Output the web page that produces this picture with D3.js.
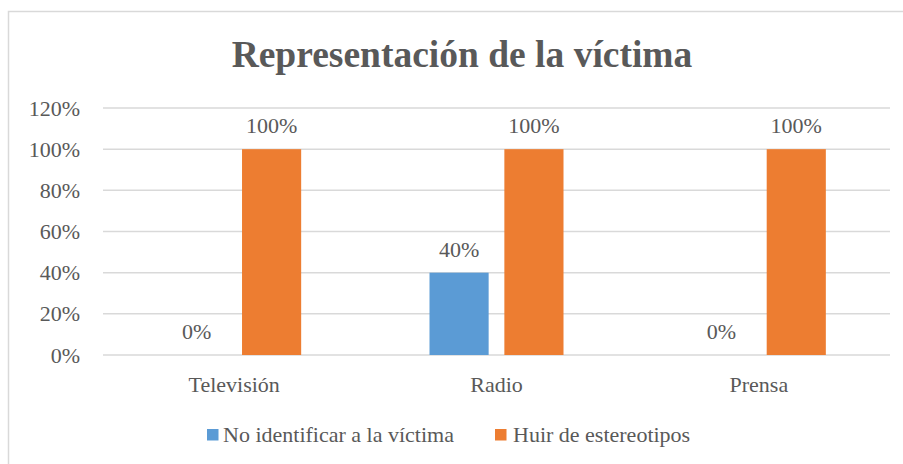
<!DOCTYPE html>
<html><head><meta charset="utf-8">
<script src="https://cdn.jsdelivr.net/npm/d3@7"></script>
<style>body{margin:0;background:#fff}svg{display:block}</style>
</head><body><svg id="c" width="903" height="464"></svg>
<script>
const categories = ["Televisión", "Radio", "Prensa"];
const seriesNames = ["No identificar a la víctima", "Huir de estereotipos"];
const noIdentificar = [0, 0.40, 0];
const huirEstereotipos = [1.00, 1.00, 1.00];
const yTicks = [0, 0.2, 0.4, 0.6, 0.8, 1.0, 1.2];
const colors = ["#5B9BD5", "#ED7D31"];
const title = "Representación de la víctima";
const FONT = "'Liberation Serif', 'Times New Roman', Tinos, 'DejaVu Serif', serif";
const FS = 22;

const svg = d3.select("#c");
svg.append("rect").attr("x", 8.5).attr("y", 11.5).attr("width", 900).attr("height", 460)
  .attr("fill", "#fff").attr("stroke", "#D9D9D9").attr("stroke-width", 1.5);

const x0 = d3.scaleBand().domain(categories).range([103, 890]).paddingInner(0).paddingOuter(0);
const x1 = d3.scaleBand().domain(seriesNames).range([x0.bandwidth()/2 - 67, x0.bandwidth()/2 + 67]).paddingInner(0.21).paddingOuter(0);
const y = d3.scaleLinear().domain([0, 1.2]).range([355, 108]);

svg.append("text").attr("x", 462).attr("y", 67).attr("text-anchor", "middle")
  .attr("font-family", FONT).attr("fill", "#595959")
  .attr("font-size", 37.5).attr("font-weight", "bold").text(title);

svg.append("g").selectAll("line").data(yTicks).join("line")
  .attr("x1", 103).attr("x2", 890).attr("y1", d => y(d)).attr("y2", d => y(d))
  .attr("stroke", "#D9D9D9").attr("stroke-width", 1.5);

const yAxis = d3.axisLeft(y).tickValues(yTicks).tickFormat(d3.format(".0%")).tickSize(0).tickPadding(23);
const ya = svg.append("g").attr("transform", "translate(103,0)").call(yAxis)
  .attr("font-family", FONT).attr("font-size", FS);
ya.select(".domain").remove();
ya.selectAll("text").attr("fill", "#595959");

const xAxis = d3.axisBottom(x0).tickSize(0).tickPadding(21);
const xa = svg.append("g").attr("transform", "translate(0,355)").call(xAxis)
  .attr("font-family", FONT).attr("font-size", FS);
xa.select(".domain").remove();
xa.selectAll("text").attr("fill", "#595959");

const data = categories.map((c, i) => ({c, vals: [noIdentificar[i], huirEstereotipos[i]]}));
const groups = svg.selectAll("g.cat").data(data).join("g").attr("class", "cat")
  .attr("transform", d => `translate(${x0(d.c)},0)`);
groups.selectAll("rect").data(d => d.vals.map((v, k) => ({v, k}))).join("rect")
  .attr("x", d => x1(seriesNames[d.k])).attr("width", x1.bandwidth())
  .attr("y", d => y(d.v)).attr("height", d => y(0) - y(d.v))
  .attr("fill", d => colors[d.k]);
groups.selectAll("text.lbl").data(d => d.vals.map((v, k) => ({v, k}))).join("text").attr("class", "lbl")
  .attr("x", d => x1(seriesNames[d.k]) + x1.bandwidth()/2).attr("y", d => y(d.v) - 16)
  .attr("text-anchor", "middle").attr("font-family", FONT).attr("font-size", FS).attr("fill", "#595959")
  .text(d => d3.format(".0%")(d.v));

const legX = [207, 495];
const leg = svg.selectAll("g.leg").data(seriesNames).join("g").attr("class", "leg")
  .attr("transform", (d, i) => `translate(${legX[i]},429)`);
leg.append("rect").attr("width", 11.5).attr("height", 11.5).attr("fill", (d, i) => colors[i]);
leg.append("text").attr("x", (d, i) => i === 0 ? 16 : 18).attr("y", 12.7).attr("font-family", FONT).attr("font-size", FS)
  .attr("fill", "#595959").text(d => d);
</script></body></html>
